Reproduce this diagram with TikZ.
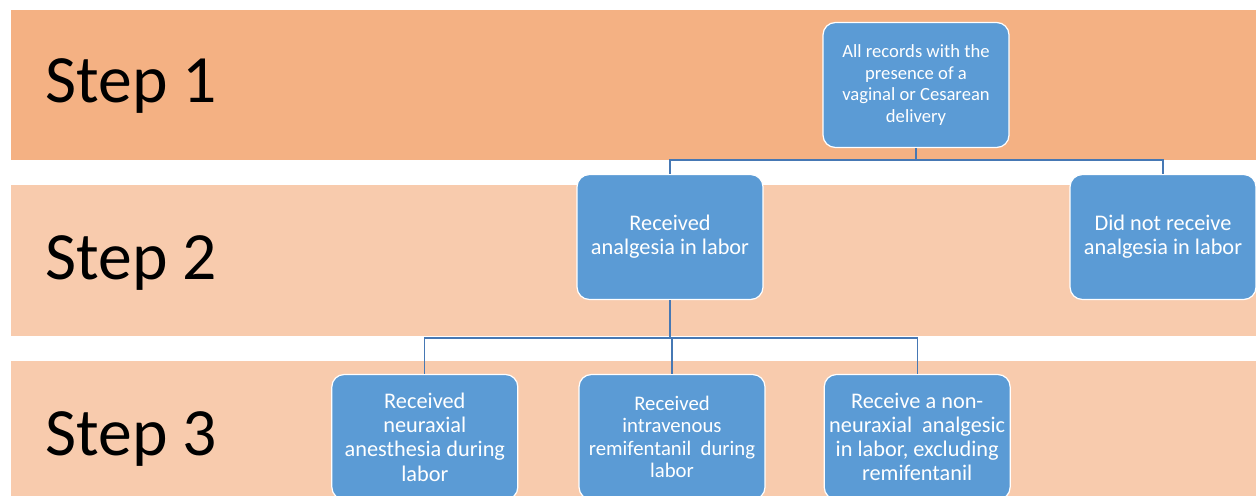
\documentclass[tikz,border=0pt]{standalone}
\usepackage{fontspec}
\setmainfont{Carlito}
\usepackage{tikz}
\usetikzlibrary{positioning}
\definecolor{bandA}{RGB}{244,177,131}
\definecolor{bandB}{RGB}{248,203,173}
\definecolor{boxblue}{RGB}{91,155,213}
\definecolor{linkblue}{RGB}{70,120,180}

\begin{document}
\begin{tikzpicture}[
    x=0.02cm, y=-0.02cm,
    band/.style={fill=#1,draw=none},
    steplabel/.style={anchor=base west,inner sep=0pt,font=\fontsize{38.5}{42}\selectfont},
    box/.style={rectangle,draw=white,line width=0.7pt,rounded corners=7pt,fill=boxblue,
      text=white,align=center,inner xsep=1pt,minimum width=3.72cm,minimum height=2.5cm,
      font=\fontsize{12.7}{13.8}\selectfont},
    smallbox/.style={box,font=\fontsize{10.6}{12.4}\selectfont},
    conn/.style={draw=linkblue,line width=0.7pt}
  ]
  \useasboundingbox (0,0) rectangle (1256,496);
  % bands
  \fill[band=bandA] (11,10) rectangle (1256,160);
  \fill[band=bandB] (11,185) rectangle (1256,336);
  \fill[band=bandB] (11,361) rectangle (1256,496);
  \node[steplabel] (s1) at (45,103) {Step 1};
  \node[steplabel] (s2) at (45,279) {Step 2};
  \node[steplabel] (s3) at (45,455) {Step 3};
  % boxes
  \node[smallbox] (records) at (916,85) {All records with the\\presence of a\\vaginal or Cesarean\\delivery};
  \node[box] (recv) at (670,237) {Received\\analgesia in labor};
  \node[box] (norecv) at (1163,237) {Did not receive\\analgesia in labor};
  \node[box,font=\fontsize{11.8}{12.8}\selectfont] (remi) at (672,437) {Received\\intravenous\\remifentanil\ \ during\\labor};
  \node[box,left=1.2cm of remi] (neur) {Received\\neuraxial\\anesthesia during\\labor};
  \node[box,right=1.16cm of remi] (nonneur) {Receive a non-\\neuraxial\ \ analgesic\\in labor, excluding\\remifentanil};
  % links
  \draw[conn] (records.south) -- ++(0,12) -| (recv.north);
  \draw[conn] (records.south) -- ++(0,12) -| (norecv.north);
  \draw[conn] (recv.south) -- ++(0,38) -| (neur.north);
  \draw[conn] (recv.south) -- ++(0,38) -| (remi.north);
  \draw[conn] (recv.south) -- ++(0,38) -| (nonneur.north);
\end{tikzpicture}
\end{document}
